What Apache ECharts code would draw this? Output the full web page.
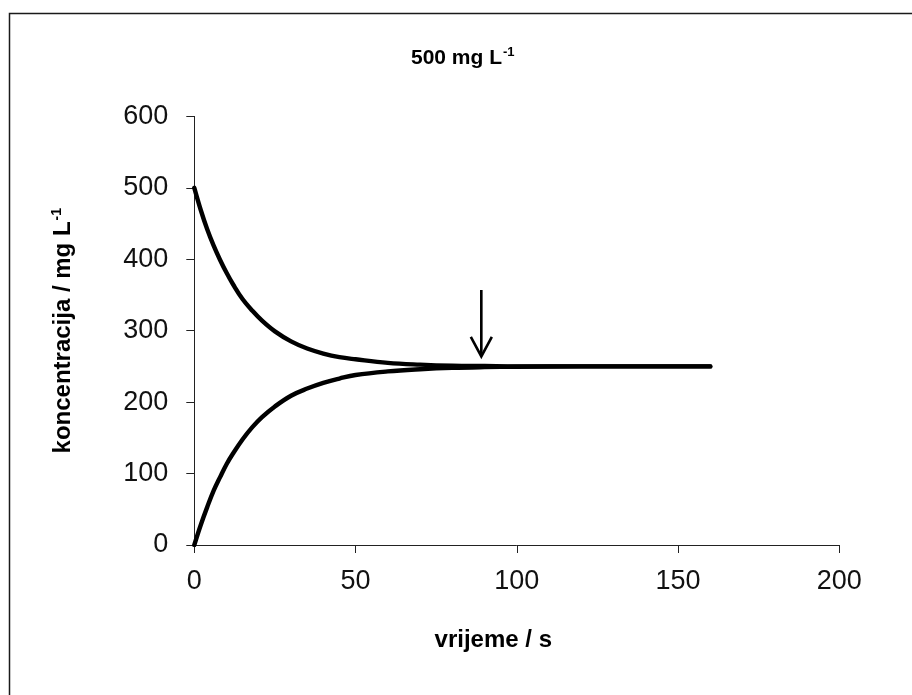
<!DOCTYPE html>
<html>
<head>
<meta charset="utf-8">
<script src="https://cdn.jsdelivr.net/npm/echarts@6/dist/echarts.min.js"></script>
<style>
html,body{margin:0;padding:0;background:#fff;}
#chart{width:912px;height:695px;}
</style>
</head>
<body>
<div id="chart"></div>
<script>
// time values (s)
const timeX = [0, 2, 4, 6, 8, 10, 12, 15, 18, 21, 25, 30, 35, 40, 45, 50, 60, 70, 80, 90, 100, 120, 140, 160];
// decreasing concentration (mg/L)
const upperConc = [500, 469, 442, 419, 399, 381, 365, 344, 328, 314, 299, 285, 275, 268, 263, 260, 255, 252.5, 251, 250.5, 250, 250, 250, 250];
// increasing concentration (mg/L)
const lowerConc = [0, 28, 53, 76, 95, 113, 128, 148, 165, 179, 194, 209, 219, 227, 233, 238, 243, 246, 248, 249, 249.5, 250, 250, 250];
// arrow annotation: [x, yTop, yTip]
const arrowData = [[89, 357, 264]];
const xTicks = {min: 0, max: 200, interval: 50};
const yTicks = {min: 0, max: 600, interval: 100};

const FONT = 'Arial, "Liberation Sans", sans-serif';
const chart = echarts.init(document.getElementById('chart'));

function pairs(xs, ys){ return xs.map((x, i) => [x, ys[i]]); }

chart.setOption({
  backgroundColor: '#fff',
  animation: false,
  graphic: [{
    type: 'rect',
    shape: {x: 9.5, y: 13.5, width: 1000, height: 1000},
    style: {fill: 'none', stroke: '#1a1a1a', lineWidth: 1.5},
    silent: true
  }],
  title: {
    text: '{a|500 mg L}{s|-1}',
    left: 406,
    top: 41,
    textStyle: {
      rich: {
        a: {fontFamily: FONT, fontWeight: 'bold', fontSize: 21, color: '#000', lineHeight: 24},
        s: {fontFamily: FONT, fontWeight: 'bold', fontSize: 13, color: '#000', verticalAlign: 'top', lineHeight: 24, padding: [0, 0, 10, 1]}
      }
    }
  },
  grid: {left: 194.3, right: 72.7, top: 116.4, bottom: 150, containLabel: false},
  xAxis: {
    type: 'value',
    min: xTicks.min, max: xTicks.max, interval: xTicks.interval,
    name: 'vrijeme / s',
    nameLocation: 'middle',
    nameGap: 83,
    nameTextStyle: {fontFamily: FONT, fontWeight: 'bold', fontSize: 24, color: '#000', padding: [0, 47, 0, 0]},
    axisLine: {lineStyle: {color: '#222', width: 1}},
    axisTick: {show: true, length: 8, inside: false, lineStyle: {color: '#222'}},
    axisLabel: {fontFamily: FONT, fontSize: 27, color: '#111', margin: 23},
    splitLine: {show: false}
  },
  yAxis: {
    type: 'value',
    min: yTicks.min, max: yTicks.max, interval: yTicks.interval,
    name: '{n|koncentracija / mg L}{s|-1}',
    nameLocation: 'middle',
    nameGap: 117,
    nameRotate: 90,
    nameTextStyle: {
      rich: {
        n: {fontFamily: FONT, fontWeight: 'bold', fontSize: 24, color: '#000', lineHeight: 27},
        s: {fontFamily: FONT, fontWeight: 'bold', fontSize: 14, color: '#000', verticalAlign: 'top', lineHeight: 27, padding: [0, 0, 10, 1]}
      }
    },
    axisLine: {show: true, lineStyle: {color: '#222', width: 1}},
    axisTick: {show: true, length: 8, inside: false, lineStyle: {color: '#222'}},
    axisLabel: {fontFamily: FONT, fontSize: 27, color: '#111', margin: 26},
    splitLine: {show: false}
  },
  series: [
    {
      type: 'line',
      data: pairs(timeX, upperConc),
      smooth: 0.4,
      showSymbol: false,
      lineStyle: {color: '#000', width: 4.4, cap: 'round', join: 'round'},
      z: 3
    },
    {
      type: 'line',
      data: pairs(timeX, lowerConc),
      smooth: 0.4,
      showSymbol: false,
      lineStyle: {color: '#000', width: 4.4, cap: 'round', join: 'round'},
      z: 3
    },
    {
      type: 'custom',
      data: arrowData,
      renderItem: function (params, api) {
        const top = api.coord([api.value(0), api.value(1)]);
        const tip = api.coord([api.value(0), api.value(2)]);
        const st = {stroke: '#000', lineWidth: 2.6, fill: 'none'};
        return {
          type: 'group',
          children: [
            {type: 'line', shape: {x1: top[0], y1: top[1], x2: tip[0], y2: tip[1] - 1}, style: st},
            {type: 'polyline', shape: {points: [[tip[0] - 10.5, tip[1] - 19.5], [tip[0], tip[1]], [tip[0] + 10.5, tip[1] - 19.5]]}, style: st}
          ]
        };
      },
      z: 4
    }
  ]
});
</script>
</body>
</html>
